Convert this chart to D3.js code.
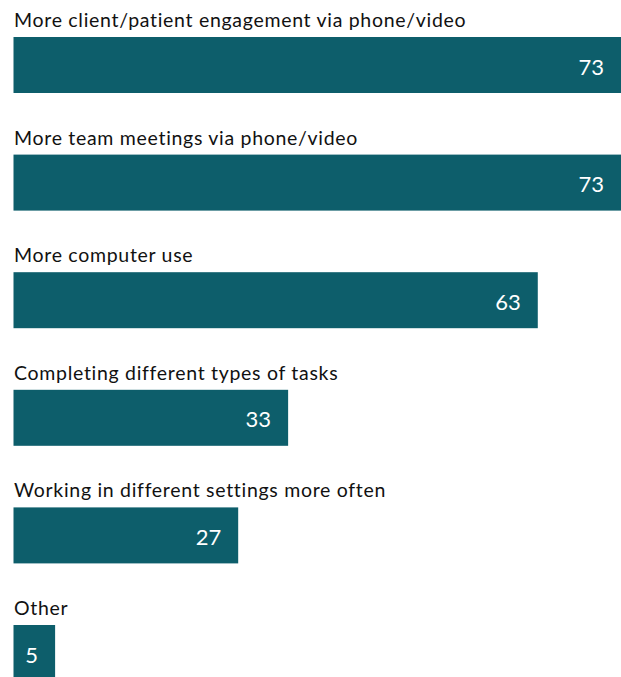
<!DOCTYPE html>
<html>
<head>
<meta charset="utf-8">
<script src="https://cdn.jsdelivr.net/npm/d3@7"></script>
<style>
  body { margin: 0; background: #fff; }
  svg { display: block; }
</style>
</head>
<body>
<div id="chart"></div>
<script>
// categories and values
const categories = [
  "More client/patient engagement via phone/video",
  "More team meetings via phone/video",
  "More computer use",
  "Completing different types of tasks",
  "Working in different settings more often",
  "Other"
];
const values = [73, 73, 63, 33, 27, 5];

var width = 621
var height = 677
var barH = 56

var svg = d3.select("#chart")
  .append("svg")
    .attr("width", width)
    .attr("height", height)

var x = d3.scaleLinear()
  .domain([0, 73])
  .range([13.5, 621]);

var y = d3.scaleBand()
  .domain(categories)
  .range([37, 37 + 117.6 * categories.length])
  .paddingInner(0);

var rows = svg.selectAll(".row")
  .data(categories)
  .enter()
  .append("g")
    .attr("class", "row")

rows.append("rect")
  .attr("x", x(0))
  .attr("y", d => y(d))
  .attr("width", (d, i) => x(values[i]) - x(0))
  .attr("height", barH)
  .attr("fill", "#0d5e6b")

// category labels above each bar
rows.append("text")
  .attr("x", 14)
  .attr("y", d => y(d) - 10)
  .text(d => d)
  .style("font-family", "Lato, sans-serif")
  .style("font-size", "19.5px")
  .style("letter-spacing", "0.7px")
  .attr("fill", "#111")

// value labels inside the bar end
rows.append("text")
  .attr("x", (d, i) => x(values[i]) - 17)
  .attr("y", d => y(d) + barH / 2 + 1)
  .attr("text-anchor", "end")
  .attr("dominant-baseline", "central")
  .text((d, i) => values[i])
  .style("font-family", "Lato, sans-serif")
  .style("font-size", "22px")
  .attr("fill", "#fff")
</script>
</body>
</html>
